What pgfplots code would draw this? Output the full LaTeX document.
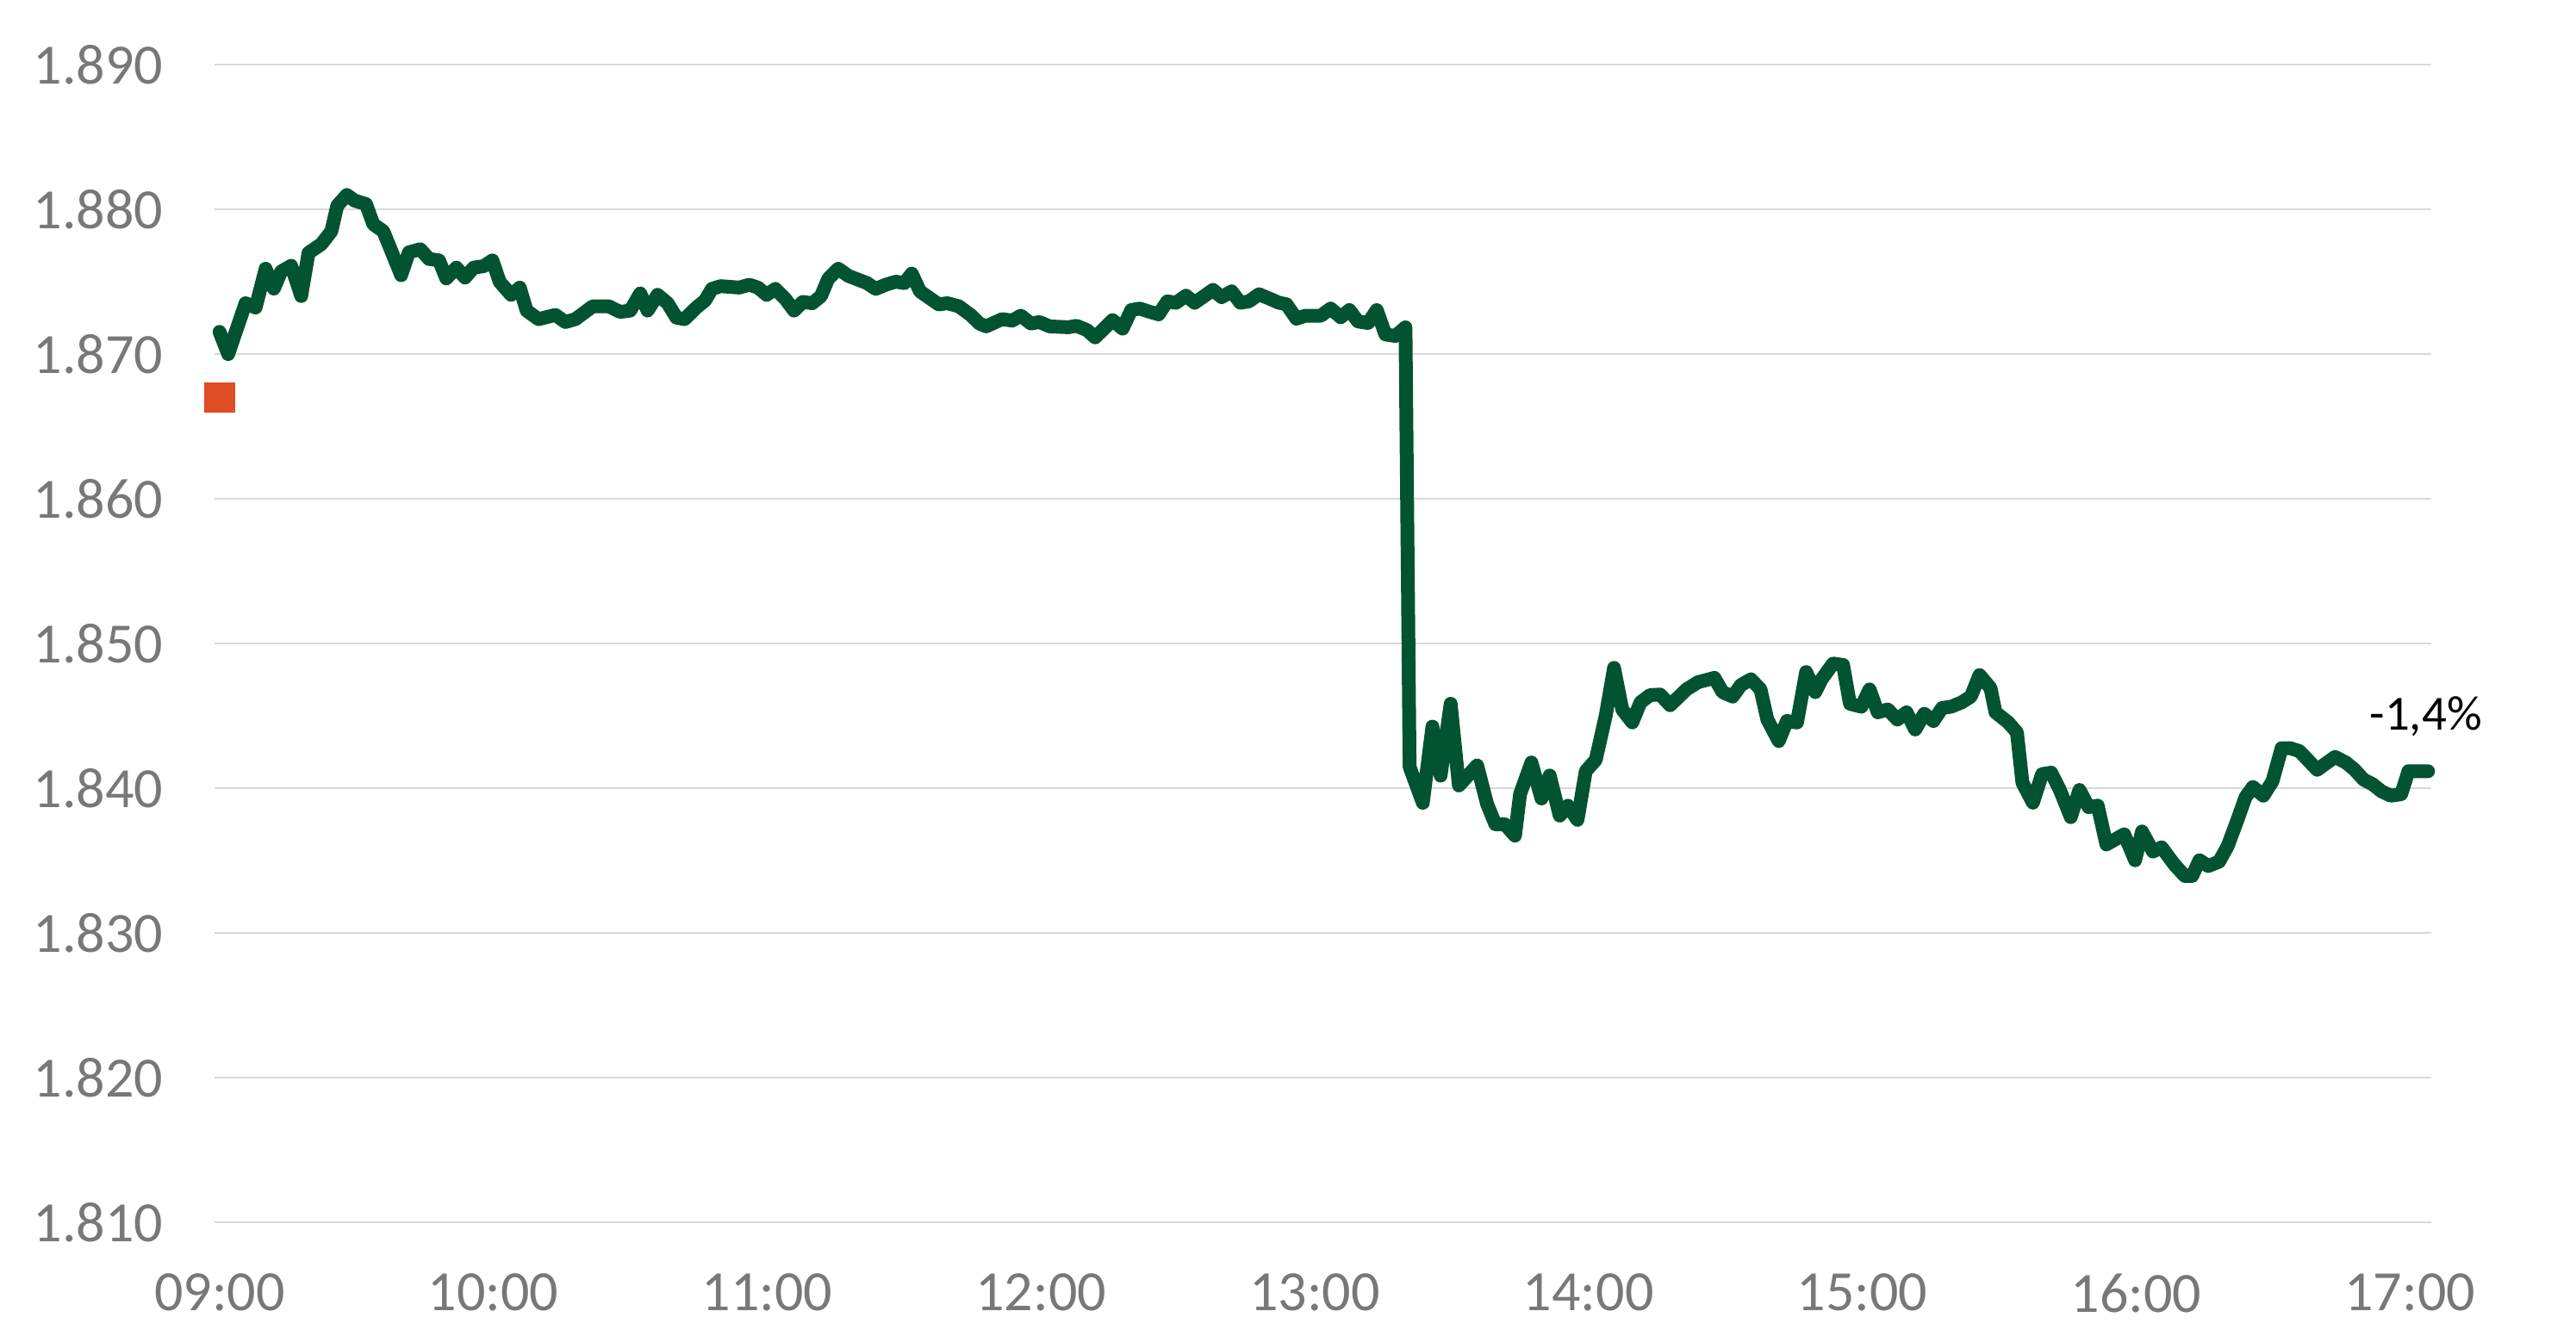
\documentclass[border=0pt]{standalone}
\usepackage{pgfplots}
\pgfplotsset{compat=1.18}
\usepackage{fontspec}
\setmainfont{Carlito}

\definecolor{linegreen}{RGB}{2,83,50}
\definecolor{startred}{RGB}{224,76,36}
\definecolor{gridgray}{RGB}{217,217,217}
\definecolor{labelgray}{RGB}{120,120,120}

\begin{document}
\begin{tikzpicture}
\path[use as bounding box] (0,0) rectangle (299mm,155.1mm);
\begin{axis}[
    at={(24.9mm,13.2mm)}, anchor=south west,
    width=257.3mm, height=134.4mm, scale only axis,
    xmin=-1.1, xmax=484.7,
    ymin=1810, ymax=1890,
    ytick={1810,1820,...,1890},
    xtick={0,60,...,480},
    xticklabels={09:00,10:00,11:00,12:00,13:00,14:00,15:00,16:00,17:00},
    axis line style={draw=none},
    major tick style={draw=none},
    ymajorgrids,
    grid style={gridgray, line width=0.25mm},
    /pgf/number format/.cd, 1000 sep={.}, assume math mode=true,
    /pgfplots/.cd,
    ticklabel style={font=\fontsize{18.8pt}{22pt}\selectfont, text=labelgray, inner sep=0pt},
    yticklabel style={anchor=east, xshift=-5.9mm},
    xticklabel style={anchor=north, yshift=-5.9mm},
    clip=false,
]
% opening reference
\addplot[only marks, mark=square*, mark size=1.7mm, color=startred, mark options={draw=none}]
    coordinates {(0,1867.0)};
% intraday price, minutes after 09:00
\addplot[linegreen, line width=1.6mm, line join=round, line cap=round] coordinates {
(0,1871.53) (1.9,1870.00) (5.7,1873.51) (7.9,1873.21) (10.1,1875.89) (11.9,1874.51)
(13.5,1875.70) (15.7,1876.10) (17.9,1874.01) (19.5,1876.99) (22.3,1877.59) (24.5,1878.48)
(25.8,1880.25) (27.9,1880.99) (29.6,1880.60) (32.1,1880.36) (33.7,1878.97) (35.9,1878.48)
(39.8,1875.45) (41.5,1877.03) (44.0,1877.24) (45.9,1876.57) (48.1,1876.47) (49.7,1875.22)
(51.9,1875.97) (53.8,1875.28) (55.7,1875.97) (57.9,1876.07) (59.8,1876.47) (61.4,1874.98)
(63.9,1874.09) (65.8,1874.59) (67.3,1873.00) (69.9,1872.41) (73.6,1872.70) (75.8,1872.21)
(78.0,1872.41) (81.8,1873.30) (85.3,1873.30) (87.8,1872.91) (90.0,1873.00) (92.2,1874.19)
(93.8,1873.00) (96.0,1874.09) (98.2,1873.51) (100.1,1872.52) (101.9,1872.41) (104.5,1873.21)
(106.4,1873.70) (107.9,1874.50) (109.8,1874.69) (113.9,1874.59) (116.1,1874.79) (118.0,1874.59)
(119.9,1874.09) (121.8,1874.50) (124.0,1873.80) (125.9,1873.00) (127.8,1873.60) (129.9,1873.51)
(131.8,1874.00) (133.4,1875.20) (135.6,1875.89) (137.8,1875.40) (141.9,1874.90) (143.8,1874.50)
(146.0,1874.79) (148.2,1875.00) (150.1,1874.90) (151.7,1875.56) (153.5,1874.33) (157.6,1873.43)
(159.5,1873.51) (162.0,1873.30) (164.6,1872.70) (166.5,1872.11) (168.0,1871.91) (171.5,1872.41)
(173.7,1872.31) (175.6,1872.65) (177.8,1872.11) (179.7,1872.21) (181.9,1871.91) (186.0,1871.85)
(187.8,1871.95) (190.1,1871.65) (191.9,1871.15) (193.5,1871.65) (195.7,1872.34) (197.9,1871.75)
(199.8,1873.04) (201.7,1873.14) (203.6,1872.94) (205.8,1872.74) (207.7,1873.64) (209.6,1873.54)
(211.8,1874.03) (213.7,1873.54) (215.9,1874.03) (217.7,1874.43) (219.6,1873.93) (221.8,1874.33)
(223.7,1873.54) (225.6,1873.64) (227.8,1874.13) (230.0,1873.84) (232.2,1873.54) (233.8,1873.44)
(236.0,1872.44) (237.9,1872.64) (241.3,1872.64) (243.5,1873.14) (245.7,1872.54) (247.6,1873.04)
(249.5,1872.25) (251.7,1872.14) (253.6,1873.04) (255.5,1871.35) (257.7,1871.25) (259.9,1871.85)
(260.8,1841.47) (263.7,1838.99) (265.8,1844.25) (267.6,1840.87) (269.8,1845.83) (271.6,1840.18)
(275.6,1841.57) (277.8,1838.89) (279.6,1837.50) (281.7,1837.50) (283.9,1836.71) (285.0,1839.58)
(287.5,1841.77) (289.7,1839.29) (291.5,1840.87) (293.7,1838.10) (295.5,1838.79) (297.6,1837.80)
(299.4,1841.17) (301.6,1841.96) (303.8,1845.04) (305.6,1848.31) (307.4,1845.44) (309.6,1844.54)
(311.4,1845.93) (313.5,1846.43) (315.7,1846.47) (317.9,1845.73) (321.5,1846.83) (324.0,1847.32)
(327.6,1847.62) (329.4,1846.63) (331.6,1846.33) (333.4,1847.12) (335.6,1847.52) (337.7,1846.83)
(339.2,1844.74) (341.7,1843.25) (343.5,1844.64) (345.7,1844.54) (347.7,1848.02) (349.7,1846.63)
(351.1,1847.52) (353.6,1848.61) (355.8,1848.51) (357.3,1845.83) (359.8,1845.63) (361.6,1846.83)
(363.4,1845.24) (365.6,1845.44) (367.7,1844.74) (369.7,1845.24) (371.6,1844.05) (373.6,1845.14)
(375.6,1844.64) (377.5,1845.54) (379.5,1845.63) (381.8,1845.93) (383.8,1846.33) (385.7,1847.82)
(388.1,1846.92) (389.2,1845.24) (392.0,1844.54) (393.9,1843.85) (395.1,1840.38) (397.4,1838.99)
(399.4,1840.97) (401.4,1841.07) (403.3,1839.88) (405.7,1838.00) (407.6,1839.88) (409.6,1838.69)
(411.6,1838.79) (413.5,1836.11) (417.4,1836.81) (419.8,1835.02) (421.3,1837.00) (423.7,1835.62)
(425.6,1835.91) (428.4,1834.72) (430.7,1833.93) (432.3,1833.93) (433.9,1835.02) (435.8,1834.62)
(438.2,1834.92) (440.1,1836.01) (442.1,1837.70) (444.0,1839.38) (445.6,1840.08) (447.9,1839.48)
(449.9,1840.48) (451.9,1842.76) (453.8,1842.76) (455.8,1842.56) (459.7,1841.27) (463.6,1842.16)
(466.0,1841.77) (467.9,1841.27) (469.9,1840.58) (471.8,1840.28) (473.8,1839.78) (475.8,1839.48)
(478.1,1839.58) (479.7,1841.17) (484.0,1841.17)
};
\node[anchor=base, inner sep=0pt, font=\fontsize{16.2pt}{19pt}\selectfont]
    at (axis cs:483.5,1843.99) {-1,4\%};
\end{axis}
\end{tikzpicture}
\end{document}
